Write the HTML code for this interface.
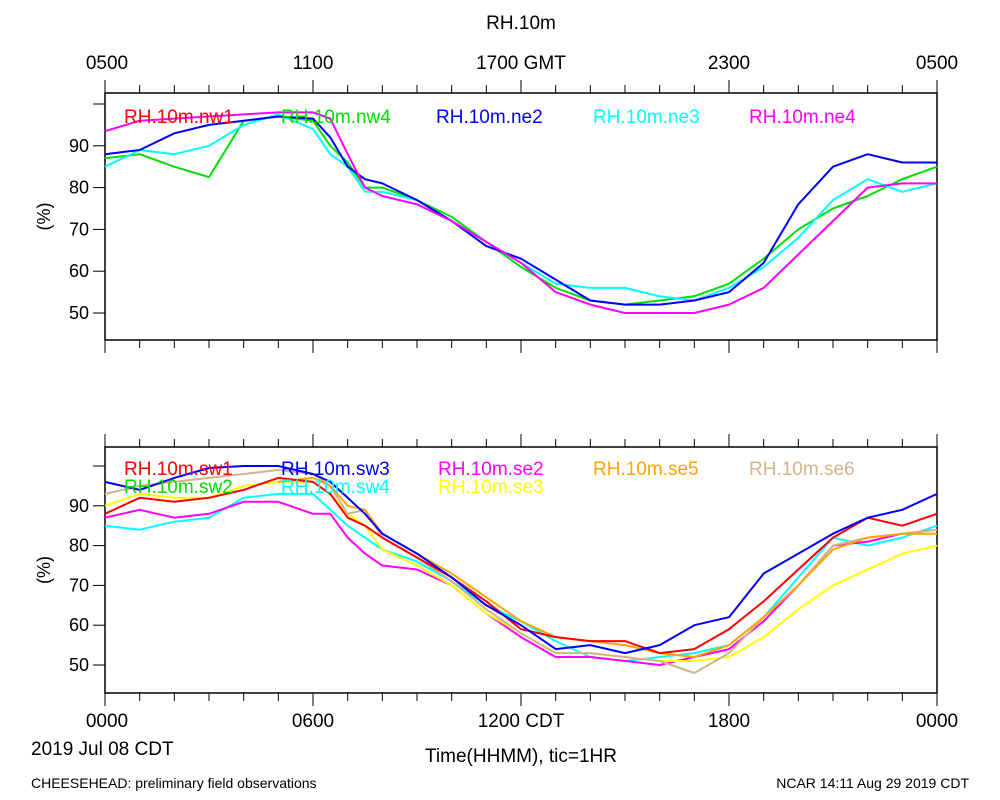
<!DOCTYPE html>
<html><head><meta charset="utf-8"><style>
body{margin:0;background:#fff;}
svg{display:block;font-family:"Liberation Sans Narrow","Liberation Sans",sans-serif;}
</style></head><body>
<svg id="chart" width="1000" height="800" viewBox="0 0 1000 800">
<text x="521" y="29" font-size="19" text-anchor="middle">RH.10m</text>
<g font-size="19" text-anchor="middle">
<text x="107" y="69">0500</text><text x="313" y="69">1100</text><text x="521" y="69">1700 GMT</text><text x="729" y="69">2300</text><text x="937" y="69">0500</text>
</g>
<g font-size="19" text-anchor="middle">
<text x="107" y="727">0000</text><text x="313" y="727">0600</text><text x="521" y="727">1200 CDT</text><text x="729" y="727">1800</text><text x="937" y="727">0000</text>
</g>
<text x="31" y="755" font-size="19">2019 Jul 08 CDT</text>
<text x="521" y="762" font-size="19" text-anchor="middle">Time(HHMM), tic=1HR</text>
<text x="31" y="788" font-size="14">CHEESEHEAD: preliminary field observations</text>
<text x="969" y="788" font-size="14" text-anchor="end">NCAR 14:11 Aug 29 2019 CDT</text>
</svg>
<script>
const hours = [0,1,2,3,4,5,6,6.5,7,7.5,8,9,10,11,12,13,14,15,16,17,18,19,20,21,22,23,24];
// top panel series
const ne4 = [93.5,96,96.5,97,97.5,98,98,96.5,88,80,78,76,72,67,62,55,52,50,50,50,52,56,64,72,80,81,81];
const ne2 = [88,89,93,95,96,97,96.5,92,85,82,81,77,72,66,63,58,53,52,52,53,55,62,76,85,88,86,86];
const ne3 = [85,89,88,90,95,97.5,94,88,85,79,79,77,72,67,62,57,56,56,54,53,56,61,68,77,82,79,81];
const nw4 = [87,88,85,82.5,96,97,96,90,86,80,80,77,73,67,61,56,53,52,53,54,57,63,70,75,78,82,85];
// bottom panel series
const sw3 = [96,94,97,99.5,100,100,98,96,92,88,83,78,72,65,60,54,55,53,55,60,62,73,78,83,87,89,93];
const sw1 = [88,92,91,92,94,97,96,93,87,85,82,77,72,66,59,57,56,56,53,54,59,66,74,82,87,85,88];
const se6 = [93,95,96,97,98,99,98,95,88,89,82,77,71,64,58,53,53,52,51,48,53,62,70,80,82,83,84];
const se5 = [null,null,null,null,null,96,97,95,90,89,83,78,73,67,61,57,56,55,53,52,55,62,70,79,82,83,83];
const se3 = [90,93,92,92,95,96,96,93,88,85,79,75,70,63,58,53,53,52,51,51,52,57,64,70,74,78,80];
const se2 = [87,89,87,88,91,91,88,88,82,78,75,74,70,63,57,52,52,51,50,52,54,61,70,80,81,83,84];
const sw4 = [85,84,86,87,92,93,93,89,85,82,79,76,71,65,61,56,52,51,52,53,55,62,72,82,80,82,85];
const yTicks = [50,60,70,80,90];

const NS='http://www.w3.org/2000/svg';
const svg=document.getElementById('chart');
function mk(tag,attrs,parent){const e=document.createElementNS(NS,tag);for(const k in attrs)e.setAttribute(k,attrs[k]);(parent||svg).appendChild(e);return e;}
const X0=105,X1=937;
const xs=h=>X0+(X1-X0)*h/24;

function panel(name,top,bottom,y50,y100,series,legend){
  const g=mk('g',{});
  
  
  const ys=v=>y50+(v-50)*(y100-y50)/50;
  // frame
  const fr=mk('rect',{x:X0,y:top,width:X1-X0,height:bottom-top,fill:'none',stroke:'#000','stroke-width':1.5},g);
  
  
  // x ticks
  for(let h=0;h<=24;h++){
    const x=xs(h),L=(h%6===0)?13:8;
    const t1=mk('line',{x1:x,x2:x,y1:top,y2:top-L,stroke:'#000','stroke-width':1},g);
    
    
    const t2=mk('line',{x1:x,x2:x,y1:bottom,y2:bottom+L,stroke:'#000','stroke-width':1},g);
    
    
  }
  // y ticks
  for(let v=50;v<=100;v+=10){
    const y=ys(v);
    const t=mk('line',{x1:X0-12,x2:X0,y1:y,y2:y,stroke:'#000','stroke-width':1},g);
    
    
  }
  yTicks.forEach(v=>{
    const t=mk('text',{x:X0-16,y:ys(v)+6,'font-size':18,'text-anchor':'end'},g);
    t.textContent=v;
    
    
  });
  const yl=mk('text',{x:0,y:0,'font-size':18,'text-anchor':'middle',transform:`translate(50,${(top+bottom)/2}) rotate(-90)`},g);
  yl.textContent='(%)';
  
  
  // series
  series.forEach(s=>{
    let d='';let pen=false;
    hours.forEach((h,i)=>{const v=s.vals[i];if(v==null){pen=false;return;}d+=(pen?'L':'M')+xs(h).toFixed(1)+','+ys(v).toFixed(1);pen=true;});
    const p=mk('path',{d:d,fill:'none',stroke:s.color,'stroke-width':2,'stroke-linejoin':'round'},g);
    
    
  });
  legend.forEach(l=>{
    const t=mk('text',{x:l.x,y:l.y,'font-size':19,fill:l.color},g);
    t.textContent=l.label;
    
    
  });
}

panel('top-panel',93,340,313,104,[
  {name:'nw4',color:'#00e000',vals:nw4},
  {name:'ne3',color:'#00ffff',vals:ne3},
  {name:'ne2',color:'#0000ff',vals:ne2},
  {name:'ne4',color:'#ff00ff',vals:ne4}
],[
  {x:124,y:123,color:'#ff0000',label:'RH.10m.nw1'},
  {x:281,y:123,color:'#00e000',label:'RH.10m.nw4'},
  {x:436,y:123,color:'#0000ff',label:'RH.10m.ne2'},
  {x:593,y:123,color:'#00ffff',label:'RH.10m.ne3'},
  {x:749,y:123,color:'#ff00ff',label:'RH.10m.ne4'}
]);
panel('bottom-panel',447,693,665,466,[
  {name:'sw4',color:'#00ffff',vals:sw4},
  {name:'se2',color:'#ff00ff',vals:se2},
  {name:'se3',color:'#ffff00',vals:se3},
  {name:'se6',color:'#d2b48c',vals:se6},
  {name:'se5',color:'#ffa500',vals:se5},
  {name:'sw1',color:'#ff0000',vals:sw1},
  {name:'sw3',color:'#0000ff',vals:sw3}
],[
  {x:124,y:475,color:'#ff0000',label:'RH.10m.sw1'},
  {x:124,y:493,color:'#00e000',label:'RH.10m.sw2'},
  {x:281,y:475,color:'#0000ff',label:'RH.10m.sw3'},
  {x:281,y:493,color:'#00ffff',label:'RH.10m.sw4'},
  {x:438,y:475,color:'#ff00ff',label:'RH.10m.se2'},
  {x:438,y:493,color:'#ffff00',label:'RH.10m.se3'},
  {x:593,y:475,color:'#ffa500',label:'RH.10m.se5'},
  {x:749,y:475,color:'#d2b48c',label:'RH.10m.se6'}
]);
</script>
</body></html>
